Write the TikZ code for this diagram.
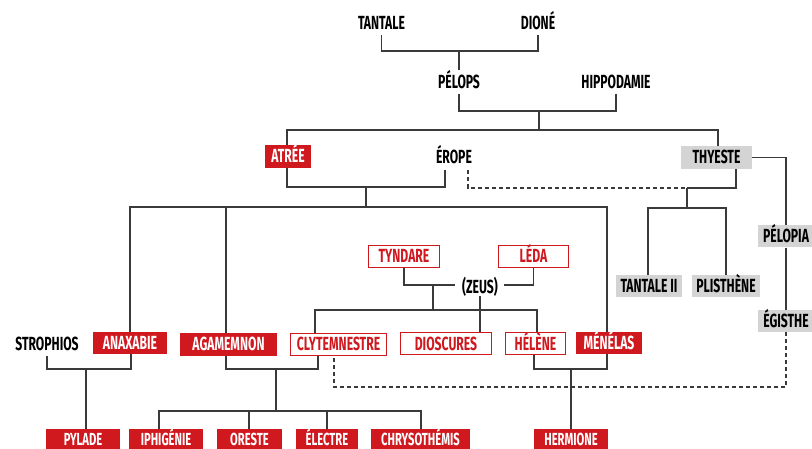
\documentclass[tikz,border=0pt]{standalone}
\usepackage{fontspec}
\setmainfont{Fira Sans}[FakeStretch=0.64]
\usetikzlibrary{calc}
\definecolor{myred}{HTML}{D0181F}
\definecolor{mygray}{HTML}{D4D4D4}
\definecolor{myline}{HTML}{3A3A3A}
\tikzset{
  base/.style={inner sep=0pt, minimum height=23pt, text height=13pt, text depth=0pt, font=\fontsize{19}{19}\selectfont\bfseries, anchor=center},
  plain/.style={base, text=black},
  redbox/.style={base, fill=myred, text=white},
  bottombox/.style={redbox, minimum height=20pt, text height=13.5pt, text depth=0.5pt, font=\fontsize{17.5}{17.5}\selectfont\bfseries},
  redout/.style={base, draw=myred, line width=1.2pt, fill=white, text=myred},
  graybox/.style={base, fill=mygray, text=black},
  link/.style={draw=myline, line width=1.3pt},
  dlink/.style={link, dash pattern=on 4pt off 3pt},
}
\begin{document}
\begin{tikzpicture}[x=1pt,y=-1pt]
\useasboundingbox (0,0) rectangle (812,449);
\clip (0,0) rectangle (812,449);
% nodes
\node[plain] (tantale) at (381.5,23.5) {TANTALE};
\node[plain] (dione) at (538,23.5) {DIONÉ};
\node[plain] (pelops) at (459,82) {PÉLOPS};
\node[plain] (hippo) at (616,82) {HIPPODAMIE};
\node[redbox, minimum width=46pt] (atree) at (288,156.5) {ATRÉE};
\node[plain, minimum height=25pt] (erope) at (454,157.5) {ÉROPE};
\node[graybox, minimum width=71pt] (thyeste) at (716.5,157.5) {THYESTE};
\node[graybox, minimum width=66pt, minimum height=22pt] (tantale2) at (649,286) {TANTALE II};
\node[graybox, minimum width=68pt, minimum height=22pt] (plisthene) at (726,286) {PLISTHÈNE};
\node[graybox, minimum width=56pt, minimum height=22pt] (pelopia) at (786,236.5) {PÉLOPIA};
\node[graybox, minimum width=56pt, minimum height=22pt] (egisthe) at (786,321) {ÉGISTHE};
\node[plain] (strophios) at (47,344.5) {STROPHIOS};
\node[redbox, minimum width=74pt, minimum height=22pt] (anaxabie) at (130,343) {ANAXABIE};
\node[redbox, minimum width=97pt] (agamemnon) at (228.5,344.5) {AGAMEMNON};
\node[redout, minimum width=96pt, minimum height=22pt] (clyt) at (338.5,344.5) {CLYTEMNESTRE};
\node[redout, minimum width=91pt, minimum height=22pt] (dioscures) at (446,343.5) {DIOSCURES};
\node[redout, minimum width=60pt, minimum height=22pt] (helene) at (535.5,343.5) {HÉLÈNE};
\node[redbox, minimum width=66pt, minimum height=22pt] (menelas) at (609,343) {MÉNÉLAS};
\node[redout, minimum width=71pt, minimum height=22pt] (tyndare) at (404,256.5) {TYNDARE};
\node[redout, minimum width=70pt, minimum height=22pt] (leda) at (533.5,256.5) {LÉDA};
\node[plain, minimum height=18pt] (zeus) at (480,287) {(ZEUS)};
\node[bottombox, minimum width=74pt] (pylade) at (83,439) {PYLADE};
\node[bottombox, minimum width=74pt] (iphigenie) at (166,439) {IPHIGÉNIE};
\node[bottombox, minimum width=65pt] (oreste) at (249.5,439) {ORESTE};
\node[bottombox, minimum width=62pt] (electre) at (327,439) {ÉLECTRE};
\node[bottombox, minimum width=99pt] (chryso) at (420.5,439) {CHRYSOTHÉMIS};
\node[bottombox, minimum width=74pt] (hermione) at (571,439) {HERMIONE};
% junction coordinates
\coordinate (jTD) at (459,51);
\coordinate (jPH) at (539,111);
\coordinate (jPH2) at (539,130);
\coordinate (jAE) at (366,187);
\coordinate (jAE2) at (366,207);
\coordinate (jTh) at (687,188);
\coordinate (jTh2) at (687,208);
\coordinate (zl) at (455,285);
\coordinate (zr) at (504,285);
\coordinate (jTL) at (433,285);
\coordinate (jTL2) at (433,310);
\coordinate (jSA) at (86,369);
\coordinate (jAC) at (276,369);
\coordinate (jAC2) at (276,411);
\coordinate (jHM) at (571,369);
\coordinate (ydash) at (600,387);
\coordinate (agtop) at ([xshift=-2.5pt]agamemnon.north);
\coordinate (agbot) at ([xshift=-2.5pt]agamemnon.south);
\coordinate (clytbot) at ([xshift=-20.5pt]clyt.south);
\coordinate (clytd) at ([xshift=-4.5pt]clyt.south);
\coordinate (menetop) at ([xshift=-2pt]menelas.north);
% connectors
\draw[link] (tantale.south) |- (jTD) -| (dione.south);
\draw[link] (jTD) -- (pelops.north);
\draw[link] (pelops.south) |- (jPH) -| (hippo.south);
\draw[link] (jPH) -- (jPH2);
\draw[link] ([xshift=-1pt]atree.north) |- (jPH2) -| ([xshift=1.5pt]thyeste.north);
\draw[link] ([xshift=-1pt]atree.south) |- (jAE) -| ([xshift=-9pt]erope.south);
\draw[link] (jAE) -- (jAE2);
\draw[link] (anaxabie.north) |- (jAE2) -| (menetop);
\draw[link] (agtop) -- (agtop |- jAE2);
\draw[dlink] ([xshift=14pt]erope.south) |- (jTh);
\draw[link] ([xshift=19.5pt]thyeste.south) |- (jTh);
\draw[link] (jTh) -- (jTh2);
\draw[link] ([xshift=-1pt]tantale2.north) |- (jTh2) -| (plisthene.north);
\draw[link] (thyeste.east) -| (pelopia.north);
\draw[link] (pelopia.south) -- (egisthe.north);
\draw[dlink] (egisthe.south) |- (ydash) -| (clytd);
\draw[link] (tyndare.south) |- (zl);
\draw[link] (leda.south) |- (zr);
\draw[link] (jTL) -- (jTL2);
\draw[link] ([xshift=-23.5pt]clyt.north) |- (jTL2) -| ([xshift=1.5pt]helene.north);
\draw[link] (zeus.south) -- (zeus.south |- dioscures.north);
\draw[link] (strophios.south) |- (jSA) -| ([xshift=1pt]anaxabie.south);
\draw[link] (jSA) -- (jSA |- pylade.north);
\draw[link] (agbot) |- (jAC) -| (clytbot);
\draw[link] (jAC) -- (jAC2);
\draw[link] ([xshift=-7pt]iphigenie.north) |- (jAC2) -| ([xshift=0.5pt]chryso.north);
\draw[link] ([xshift=-0.5pt]oreste.north) -- ([xshift=-0.5pt]oreste.north |- jAC2);
\draw[link] (electre.north) -- (electre.north |- jAC2);
\draw[link] ([xshift=-1.5pt]helene.south) |- (jHM) -| ([xshift=-2pt]menelas.south);
\draw[link] (jHM) -- (hermione.north);
\end{tikzpicture}
\end{document}
